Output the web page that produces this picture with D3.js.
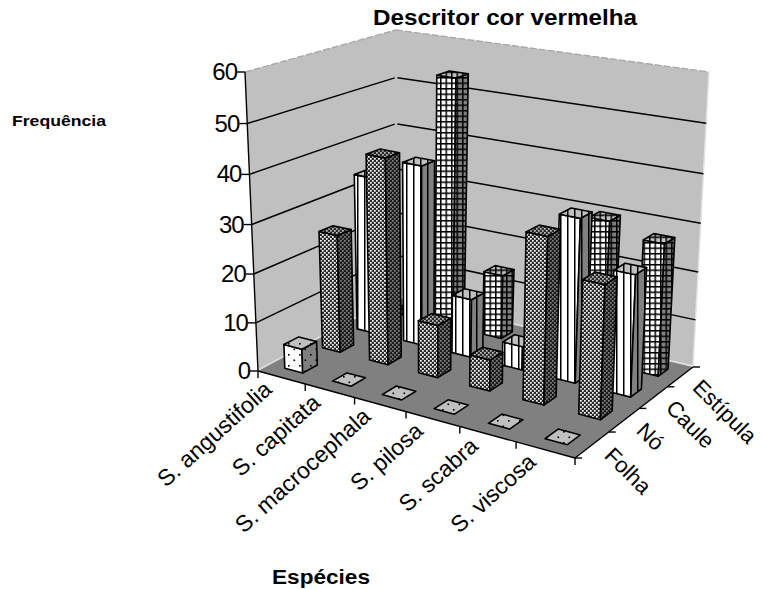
<!DOCTYPE html>
<html>
<head>
<meta charset="utf-8">
<script src="https://cdnjs.cloudflare.com/ajax/libs/d3/7.8.5/d3.min.js"></script>
<style>
body { margin: 0; background: #fff; }
text { font-family: "Liberation Sans", Arial, sans-serif; fill: #000; }
</style>
</head>
<body>
<svg width="762" height="590"></svg>
<script>
var categories = ["S. angustifolia", "S. capitata", "S. macrocephala", "S. pilosa", "S. scabra", "S. viscosa"];
var series = ["Folha", "Nó", "Caule", "Estípula"];
var folha = [5, 0, 0, 0, 0, 0];
var no = [25, 43, 11, 6.5, 34, 27];
var caule = [34, 38.5, 12.5, 5, 34, 25];
var estipula = [0, 54, 14, 0, 30, 27.5];
var values = [folha, no, caule, estipula];
var yTicks = [0, 10, 20, 30, 40, 50, 60];

var svg = d3.select("svg");

// box corners on screen, with a depth weight so spacing shrinks towards the back
var box = {
  flb: [258, 371, 1], frb: [575, 458, 0.876], blb: [396, 297, 1.175], brb: [693, 367, 1.05],
  flt: [245, 72, 0.96], frt: [584, 140, 0.84], blt: [396, 30, 1.087], brt: [709, 72, 0.998]
};

function project(u, v, t) {
  var list = [
    [box.flb, (1 - u) * (1 - v) * (1 - t)], [box.frb, u * (1 - v) * (1 - t)],
    [box.blb, (1 - u) * v * (1 - t)], [box.brb, u * v * (1 - t)],
    [box.flt, (1 - u) * (1 - v) * t], [box.frt, u * (1 - v) * t],
    [box.blt, (1 - u) * v * t], [box.brt, u * v * t]
  ];
  var sx = 0, sy = 0, sw = 0;
  list.forEach(function(d) {
    var k = d[1] * d[0][2];
    sx += k * d[0][0];
    sy += k * d[0][1];
    sw += k;
  });
  return [sx / sw, sy / sw];
}

var gap = 0.62;
var x = d3.scaleBand().domain(categories).range([0, 1]).paddingInner(gap).paddingOuter(gap / 2);
var z = d3.scaleBand().domain(series).range([0, 1]).paddingInner(gap).paddingOuter(gap / 2);
var y = d3.scaleLinear().domain([0, 60]).range([0, 1]);

function poly(points) {
  return "M" + points.map(function(p) { return p[0].toFixed(1) + "," + p[1].toFixed(1); }).join("L") + "Z";
}

// patterns
var defs = svg.append("defs");

function dots(id, bg) {
  var p = defs.append("pattern").attr("id", id).attr("patternUnits", "userSpaceOnUse")
    .attr("width", 11).attr("height", 11);
  p.append("rect").attr("width", 11).attr("height", 11).attr("fill", bg);
  p.append("rect").attr("x", 2).attr("y", 2).attr("width", 1.6).attr("height", 1.6).attr("fill", "#000");
  p.append("rect").attr("x", 7.5).attr("y", 7.5).attr("width", 1.6).attr("height", 1.6).attr("fill", "#000");
}
function checker(id, bg, fg) {
  var p = defs.append("pattern").attr("id", id).attr("patternUnits", "userSpaceOnUse")
    .attr("width", 4).attr("height", 4);
  p.append("rect").attr("width", 4).attr("height", 4).attr("fill", bg);
  p.append("rect").attr("width", 1.7).attr("height", 1.7).attr("fill", fg);
  p.append("rect").attr("x", 2).attr("y", 2).attr("width", 1.7).attr("height", 1.7).attr("fill", fg);
}
function stripes(id, bg, fg) {
  var p = defs.append("pattern").attr("id", id).attr("patternUnits", "userSpaceOnUse")
    .attr("width", 7).attr("height", 7);
  p.append("rect").attr("width", 7).attr("height", 7).attr("fill", bg);
  p.append("rect").attr("width", 1.5).attr("height", 7).attr("fill", fg);
}
function grid(id, bg, fg) {
  var p = defs.append("pattern").attr("id", id).attr("patternUnits", "userSpaceOnUse")
    .attr("width", 5.5).attr("height", 5.5);
  p.append("rect").attr("width", 5.5).attr("height", 5.5).attr("fill", bg);
  p.append("rect").attr("width", 1.5).attr("height", 5.5).attr("fill", fg);
  p.append("rect").attr("width", 5.5).attr("height", 1.5).attr("fill", fg);
}

dots("p0front", "#ffffff"); dots("p0side", "#808080"); dots("p0top", "#c0c0c0");
checker("p1front", "#2a2a2a", "#ffffff"); checker("p1side", "#1c1c1c", "#808080"); checker("p1top", "#2a2a2a", "#c0c0c0");
stripes("p2front", "#ffffff", "#000000"); stripes("p2side", "#808080", "#000000"); stripes("p2top", "#c0c0c0", "#000000");
grid("p3front", "#ffffff", "#000000"); grid("p3side", "#808080", "#000000"); grid("p3top", "#c0c0c0", "#000000");

// walls and floor
svg.append("path").attr("d", poly([project(0, 0, 0), project(0, 0, 1), project(0, 1, 1), project(0, 1, 0)]))
  .attr("fill", "#c0c0c0");
svg.append("path").attr("d", poly([project(0, 1, 0), project(0, 1, 1), project(1, 1, 1), project(1, 1, 0)]))
  .attr("fill", "#c0c0c0");
svg.append("path").attr("d", poly([project(0, 0, 0), project(1, 0, 0), project(1, 1, 0), project(0, 1, 0)]))
  .attr("fill", "#808080");

// light rims of the walls
[[project(0, 0, 1), project(0, 1, 1)], [project(0, 1, 1), project(1, 1, 1)]].forEach(function(s) {
  svg.append("line").attr("x1", s[0][0]).attr("y1", s[0][1]).attr("x2", s[1][0]).attr("y2", s[1][1])
    .attr("stroke", "#a8a8a8").attr("stroke-width", 1.4).attr("stroke-dasharray", "7,2");
});
[[project(0, 0, 0), project(0, 1, 0)], [project(0, 1, 0), project(1, 1, 0)], [project(1, 1, 0), project(1, 1, 1)]].forEach(function(s) {
  svg.append("line").attr("x1", s[0][0]).attr("y1", s[0][1] - 1).attr("x2", s[1][0]).attr("y2", s[1][1] - 1)
    .attr("stroke", "#e2e2e2").attr("stroke-width", 1.4);
});

// gridlines
yTicks.filter(function(d) { return d > 0 && d < 60; }).forEach(function(d) {
  var t = y(d);
  var a = project(0, 0, t), b = project(0, 0.99, t), c = project(0.005, 1, t), e = project(1, 1, t);
  svg.append("line").attr("x1", a[0]).attr("y1", a[1]).attr("x2", b[0]).attr("y2", b[1])
    .attr("stroke", "#000").attr("stroke-width", 1.5);
  svg.append("line").attr("x1", c[0]).attr("y1", c[1]).attr("x2", e[0]).attr("y2", e[1])
    .attr("stroke", "#000").attr("stroke-width", 1.5);
});

// axes lines and ticks
function seg(a, b) {
  svg.append("line").attr("x1", a[0]).attr("y1", a[1]).attr("x2", b[0]).attr("y2", b[1])
    .attr("stroke", "#000").attr("stroke-width", 1.4);
}
seg(project(0, 0, 0), project(0, 0, 1));
seg(project(0, 0, 0), project(1, 0, 0));
seg(project(1, 0, 0), project(1, 1, 0));

yTicks.forEach(function(d) {
  var p = project(0, 0, y(d));
  seg(p, [p[0] - 8, p[1]]);
  svg.append("text").attr("x", p[0] - 8).attr("y", p[1] + 8)
    .attr("text-anchor", "end").attr("font-size", 24).attr("letter-spacing", -1).text(d);
});

d3.range(categories.length + 1).forEach(function(i) {
  var p = project(x.step() * i, 0, 0);
  seg(p, [p[0], p[1] + 7]);
});
d3.range(series.length + 1).forEach(function(i) {
  var p = project(1, z.step() * i, 0);
  seg(p, [p[0] + 7, p[1]]);
});

categories.forEach(function(d, i) {
  var p = project(x.step() * (i + 0.5), 0, 0);
  svg.append("text")
    .attr("transform", "translate(" + (p[0] - 8) + "," + (p[1] + 14) + ") rotate(-42)")
    .attr("text-anchor", "end").attr("font-size", 23).text(d);
});
series.forEach(function(d, i) {
  var p = project(1, z.step() * (i + 0.5), 0);
  svg.append("text")
    .attr("transform", "translate(" + (p[0] + 11) + "," + (p[1] + 12) + ") rotate(45)")
    .attr("font-size", 22).text(d);
});

// bars, back row first, left to right
d3.range(series.length - 1, -1, -1).forEach(function(s) {
  categories.forEach(function(c, i) {
    var u0 = x(c), u1 = u0 + x.bandwidth();
    var v0 = z(series[s]), v1 = v0 + z.bandwidth();
    var t = y(values[s][i]);
    var g = svg.append("g").attr("stroke", "#000").attr("stroke-width", 1.6).attr("stroke-linejoin", "round");
    if (values[s][i] > 0) {
      g.append("path").attr("fill", "url(#p" + s + "front)")
        .attr("d", poly([project(u0, v0, 0), project(u1, v0, 0), project(u1, v0, t), project(u0, v0, t)]));
      g.append("path").attr("fill", "url(#p" + s + "side)")
        .attr("d", poly([project(u1, v0, 0), project(u1, v1, 0), project(u1, v1, t), project(u1, v0, t)]));
    }
    g.append("path").attr("fill", "url(#p" + s + "top)")
      .attr("d", poly([project(u0, v0, t), project(u1, v0, t), project(u1, v1, t), project(u0, v1, t)]));
  });
});

// titles, stretched a bit wider than the font's own width as in the original
svg.append("text").attr("x", 373).attr("y", 25)
  .attr("font-size", 22).attr("font-weight", "bold")
  .attr("textLength", 264).attr("lengthAdjust", "spacingAndGlyphs").text("Descritor cor vermelha");
svg.append("text").attr("x", 12).attr("y", 126)
  .attr("font-size", 15).attr("font-weight", "bold")
  .attr("textLength", 94).attr("lengthAdjust", "spacingAndGlyphs").text("Frequência");
svg.append("text").attr("x", 272).attr("y", 584)
  .attr("font-size", 20).attr("font-weight", "bold")
  .attr("textLength", 98).attr("lengthAdjust", "spacingAndGlyphs").text("Espécies");
</script>
</body>
</html>
